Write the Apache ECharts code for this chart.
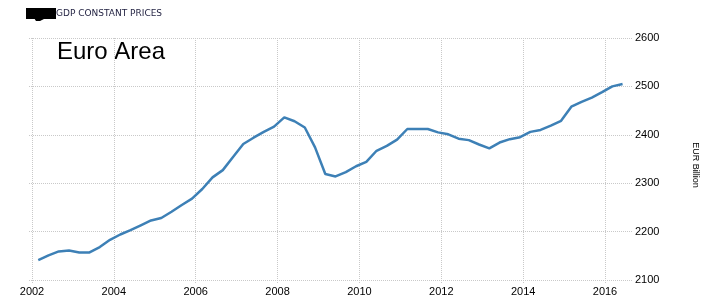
<!DOCTYPE html>
<html>
<head>
<meta charset="utf-8">
<script src="https://cdn.jsdelivr.net/npm/echarts@6/dist/echarts.min.js"></script>
<style>html,body{margin:0;padding:0;background:#fff}#c{width:709px;height:303px}</style>
</head>
<body>
<div id="c"></div>
<script>
var quarters = [
 '2002Q1','2002Q2','2002Q3','2002Q4','2003Q1','2003Q2','2003Q3','2003Q4',
 '2004Q1','2004Q2','2004Q3','2004Q4','2005Q1','2005Q2','2005Q3','2005Q4',
 '2006Q1','2006Q2','2006Q3','2006Q4','2007Q1','2007Q2','2007Q3','2007Q4',
 '2008Q1','2008Q2','2008Q3','2008Q4','2009Q1','2009Q2','2009Q3','2009Q4',
 '2010Q1','2010Q2','2010Q3','2010Q4','2011Q1','2011Q2','2011Q3','2011Q4',
 '2012Q1','2012Q2','2012Q3','2012Q4','2013Q1','2013Q2','2013Q3','2013Q4',
 '2014Q1','2014Q2','2014Q3','2014Q4','2015Q1','2015Q2','2015Q3','2015Q4',
 '2016Q1','2016Q2'
];
var gdp = [
 2141,2151,2159,2161,2157,2157,2168,2183,
 2194,2203,2213,2223,2228,2241,2255,2268,
 2288,2312,2327,2354,2381,2394,2406,2417,
 2436,2428,2415,2374,2319,2314,2323,2335,
 2344,2367,2377,2390,2412,2412,2412,2405,
 2401,2392,2389,2380,2372,2384,2391,2395,
 2406,2410,2419,2429,2458,2468,2477,2488,
 2500,2505
];
var yTicks = { min: 2100, max: 2600, step: 100 };
var xTicks = { min: 2002, max: 2016, step: 2 };
var titleText = 'GDP CONSTANT PRICES';
var countryText = 'Euro Area';
var unitText = 'EUR Billion';

function qToYear(q) {
  var y = parseInt(q.slice(0, 4), 10);
  var n = parseInt(q.slice(5), 10);
  return y + (n - 1) * 0.25 + 0.146;
}
var seriesData = quarters.map(function (q, i) { return [qToYear(q), gdp[i]]; });

var grid = '#c9c9c9';
var labelFont = { fontFamily: 'Liberation Sans', fontSize: 11, color: '#000' };

var chart = echarts.init(document.getElementById('c'), null, { renderer: 'canvas' });
chart.setOption({
  animation: false,
  backgroundColor: '#fff',
  grid: [
    { left: 29, right: 76, top: 38, bottom: 23 },
    { left: 32, right: 104, top: 38, bottom: 23 }
  ],
  xAxis: [
    { type: 'value', gridIndex: 0, min: 2001.92, max: 2016.65,
      axisLine: { show: false }, axisTick: { show: false }, axisLabel: { show: false }, splitLine: { show: false } },
    { type: 'value', gridIndex: 1, min: xTicks.min, max: xTicks.max, interval: xTicks.step,
      axisLine: { show: false },
      axisTick: { show: true, length: 4, lineStyle: { color: grid, type: 'dotted', width: 1 } },
      axisLabel: Object.assign({ margin: 6, formatter: function (v) { return String(v); } }, labelFont),
      splitLine: { show: true, lineStyle: { color: grid, type: 'dotted', width: 1 } } }
  ],
  yAxis: [
    { type: 'value', gridIndex: 0, position: 'right', min: yTicks.min, max: yTicks.max, interval: yTicks.step,
      axisLine: { show: false }, axisTick: { show: false },
      axisLabel: Object.assign({ margin: 2, formatter: function (v) { return String(v); } }, labelFont),
      splitLine: { show: true, lineStyle: { color: grid, type: 'dotted', width: 1 } } },
    { type: 'value', gridIndex: 1, min: yTicks.min, max: yTicks.max, show: false, splitLine: { show: false } }
  ],
  series: [{
    type: 'line', xAxisIndex: 0, yAxisIndex: 0, data: seriesData,
    showSymbol: false, symbol: 'none', smooth: false,
    lineStyle: { color: '#3d80b6', width: 2.5 }
  }],
  graphic: [
    { type: 'rect', shape: { x: 26, y: 8, width: 30, height: 11 }, style: { fill: '#000' } },
    { type: 'polygon', shape: { points: [[34, 18], [46, 18], [40, 21], [36, 21]] }, style: { fill: '#000' } },
    { type: 'text', x: 56, y: 13.5, style: { text: titleText, fontFamily: 'DejaVu Sans', fontSize: 9, fill: '#1f1f3f', verticalAlign: 'middle', align: 'left' } },
    { type: 'text', x: 57, y: 52.5, style: { text: countryText, fontFamily: 'Liberation Sans', fontSize: 24, fill: '#000', verticalAlign: 'middle', align: 'left' } },
    { type: 'text', x: 695, y: 165, rotation: -Math.PI / 2, style: { text: unitText, fontFamily: 'Liberation Sans', fontSize: 9, fill: '#000', verticalAlign: 'middle', align: 'center' } }
  ]
});
</script>
</body>
</html>
